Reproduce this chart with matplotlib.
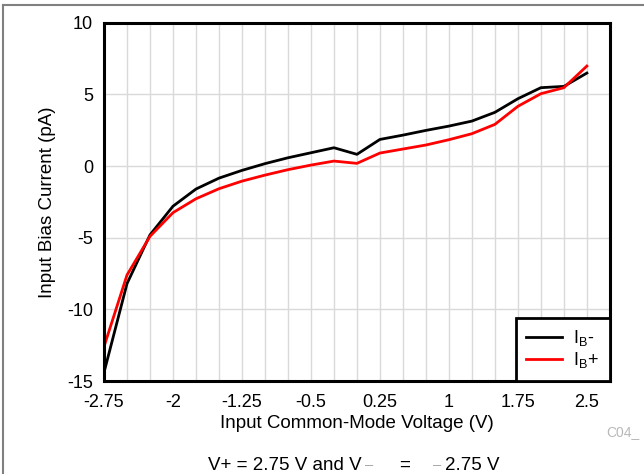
import matplotlib
matplotlib.use("Agg")
import matplotlib.pyplot as plt
from matplotlib.lines import Line2D
import numpy as np

plt.rcParams['font.family'] = ['Liberation Sans', 'DejaVu Sans']
plt.rcParams['mathtext.default'] = 'regular'
plt.rcParams['axes.unicode_minus'] = False

# Input common-mode voltage (V)
vcm = [-2.75, -2.5, -2.25, -2.0, -1.75, -1.5, -1.25, -1.0, -0.75, -0.5, -0.25,
       0.0, 0.25, 0.5, 0.75, 1.0, 1.25, 1.5, 1.75, 2.0, 2.25, 2.5]

# Input bias current (pA)
ib_minus = [-14.4, -8.2, -4.8, -2.8, -1.6, -0.84, -0.3, 0.17, 0.58, 0.93, 1.28,
            0.82, 1.86, 2.16, 2.49, 2.79, 3.14, 3.75, 4.7, 5.47, 5.56, 6.49]
ib_plus = [-12.6, -7.6, -4.9, -3.25, -2.28, -1.58, -1.05, -0.63, -0.25, 0.07, 0.35,
           0.19, 0.91, 1.19, 1.47, 1.84, 2.26, 2.91, 4.17, 5.05, 5.47, 6.98]

x_ticks = [-2.75, -2, -1.25, -0.5, 0.25, 1, 1.75, 2.5]
x_tick_labels = ['-2.75', '-2', '-1.25', '-0.5', '0.25', '1', '1.75', '2.5']
y_ticks = [-15, -10, -5, 0, 5, 10]

W, H = 644, 474
fig = plt.figure(figsize=(W / 100, H / 100), dpi=100)
ax = fig.add_axes([0.1615, 0.196, 0.7855, 0.756])

# light grid: every 0.25 V vertically, every 5 pA horizontally
for gx in np.arange(-2.5, 2.75, 0.25):
    ax.axvline(gx, color='#d9d9d9', linewidth=1.0, zorder=0)
for gy in y_ticks:
    ax.axhline(gy, color='#d9d9d9', linewidth=1.0, zorder=0)

ax.plot(vcm, ib_minus, color='black', linewidth=2.0, label='I$_B$-')
ax.plot(vcm, ib_plus, color='#ff0000', linewidth=2.0, label='I$_B$+')

ax.set_xlim(-2.75, 2.75)
ax.set_ylim(-15, 10)
ax.set_xticks(x_ticks)
ax.set_xticklabels(x_tick_labels)
ax.set_yticks(y_ticks)
ax.tick_params(length=0, labelsize=13)
ax.tick_params(axis='x', pad=9)
ax.tick_params(axis='y', pad=8)

for spine in ax.spines.values():
    spine.set_linewidth(2.2)

ax.set_xlabel('Input Common-Mode Voltage (V)', fontsize=13.5, labelpad=3)
ax.set_ylabel('Input Bias Current (pA)', fontsize=13.5, labelpad=8)

leg = ax.legend(loc='lower right', fontsize=13, fancybox=False, framealpha=1,
                borderaxespad=0, handlelength=2.0, handletextpad=0.6,
                borderpad=0.6, labelspacing=0.1)
leg.get_frame().set_edgecolor('black')
leg.get_frame().set_linewidth(2.0)

fig.text(606 / W, 1 - 432 / H, 'C04_', color='#b8b8b8', fontsize=10,
         ha='left', va='center')

# bottom condition note, light grey minus signs
yb = 1 - 465 / H
fig.text(208 / W, yb, 'V+ = 2.75 V and V', fontsize=13.5, ha='left', va='center')
fig.text(365 / W, yb, '\u2013', color='#a8a8a8', fontsize=10.5, ha='left', va='center')
fig.text(399 / W, yb, '=', fontsize=13.5, ha='left', va='center')
fig.text(433 / W, yb, '\u2013', color='#a8a8a8', fontsize=10.5, ha='left', va='center')
fig.text(445 / W, yb, '2.75 V', fontsize=13.5, ha='left', va='center')

# outer frame lines (top and left)
fig.add_artist(Line2D([0.005, 0.005], [0, 0.99], color='#808080', linewidth=1.5,
                      transform=fig.transFigure))
fig.add_artist(Line2D([0.005, 1], [0.99, 0.99], color='#808080', linewidth=1.5,
                      transform=fig.transFigure))

fig.savefig('out.png', dpi=100)
